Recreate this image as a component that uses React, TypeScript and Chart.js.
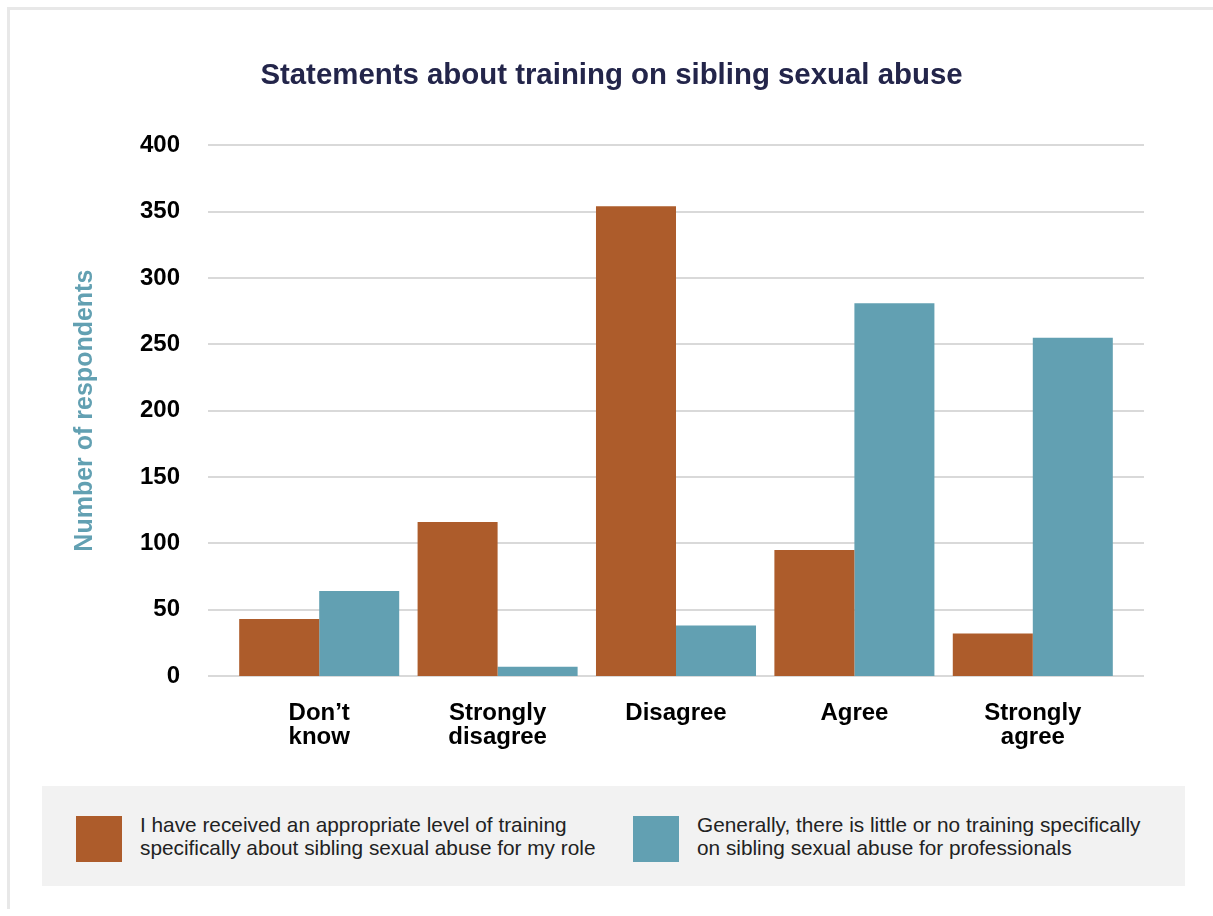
import React, { useEffect, useRef } from "react";
import { Chart, registerables } from "chart.js";

Chart.register(...registerables);

const categories: (string | string[])[] = [
  ["Don\u2019t", "know"],
  ["Strongly", "disagree"],
  "Disagree",
  "Agree",
  ["Strongly", "agree"],
];

const receivedTraining = [43, 116, 354, 95, 32];
const littleTraining = [64, 7, 38, 281, 255];

const seriesLabels = [
  "I have received an appropriate level of training specifically about sibling sexual abuse for my role",
  "Generally, there is little or no training specifically on sibling sexual abuse for professionals",
];
const seriesLegendLines = [
  ["I have received an appropriate level of training", "specifically about sibling sexual abuse for my role"],
  ["Generally, there is little or no training specifically", "on sibling sexual abuse for professionals"],
];
const seriesColors = ["#AD5C2B", "#62A0B2"];

const titleText = "Statements about training on sibling sexual abuse";
const yAxisTitle = "Number of respondents";
const yMin = 0;
const yMax = 400;
const yStep = 50;

const FONT = "'Liberation Sans', Arial, Helvetica, sans-serif";

const extendedGrid = {
  id: "extendedGrid",
  beforeDatasetsDraw(chart: any) {
    const y = chart.scales.y;
    const { left, right } = chart.chartArea;
    const ctx = chart.ctx;
    ctx.save();
    ctx.strokeStyle = "#d9d9d9";
    ctx.lineWidth = 2;
    y.ticks.forEach((t: any) => {
      const py = Math.round(y.getPixelForValue(t.value));
      ctx.beginPath();
      ctx.moveTo(left - 22, py);
      ctx.lineTo(right + 22, py);
      ctx.stroke();
    });
    ctx.restore();
  },
};

export default function App() {
  const ref = useRef<HTMLCanvasElement | null>(null);

  useEffect(() => {
    if (!ref.current) return;
    const chart = new Chart(ref.current, {
      type: "bar",
      data: {
        labels: categories as any,
        datasets: [
          {
            label: seriesLabels[0],
            data: receivedTraining,
            backgroundColor: seriesColors[0],
            borderWidth: 0,
            categoryPercentage: 0.897,
            barPercentage: 1.0,
          },
          {
            label: seriesLabels[1],
            data: littleTraining,
            backgroundColor: seriesColors[1],
            borderWidth: 0,
            categoryPercentage: 0.897,
            barPercentage: 1.0,
          },
        ],
      },
      options: {
        responsive: false,
        animation: false,
        devicePixelRatio: 1,
        layout: { padding: { left: 0, right: 0, top: 0, bottom: 21 } },
        plugins: {
          legend: { display: false },
          tooltip: { enabled: false },
          title: {
            display: true,
            text: titleText,
            color: "#23254A",
            font: { family: FONT, size: 29.4, weight: "bold", lineHeight: 1.2 },
            padding: { top: 48, bottom: 52 },
          },
        },
        scales: {
          x: {
            grid: { display: false, drawTicks: false },
            border: { display: false },
            ticks: {
              color: "#000",
              padding: 26,
              maxRotation: 0,
              autoSkip: false,
              font: { family: FONT, size: 24, weight: "bold", lineHeight: 0.97 },
            },
            afterFit(scale: any) {
              scale.height = 73;
            },
          },
          y: {
            min: yMin,
            max: yMax,
            grid: { display: false, drawTicks: false },
            border: { display: false },
            ticks: {
              stepSize: yStep,
              color: "#000",
              padding: 50,
              font: { family: FONT, size: 24, weight: "bold" },
            },
            title: {
              display: true,
              text: yAxisTitle,
              color: "#62A0B2",
              font: { family: FONT, size: 25, weight: "bold", lineHeight: 1.2 },
              padding: { top: 60, bottom: 0 },
            },
            afterFit(scale: any) {
              scale.width = 220;
            },
          },
          yRight: {
            type: "linear",
            position: "right",
            display: true,
            grid: { display: false, drawTicks: false },
            border: { display: false },
            ticks: { display: false },
            afterFit(scale: any) {
              scale.width = 91;
            },
          },
        },
      } as any,
      plugins: [extendedGrid],
    });
    return () => chart.destroy();
  }, []);

  const legendLefts = [34, 591];

  return (
    <div
      style={{
        position: "absolute",
        left: 7,
        top: 7,
        width: 1203,
        height: 899,
        borderTop: "3px solid #e8e8e8",
        borderLeft: "3px solid #e8e8e8",
        overflow: "hidden",
        background: "#fff",
      }}
    >
      <canvas
        ref={ref}
        width={1203}
        height={760}
        style={{ position: "absolute", left: 0, top: 0, width: 1203, height: 760 }}
      />
      <div
        style={{
          position: "absolute",
          left: 32,
          top: 776,
          width: 1143,
          height: 100,
          background: "#f2f2f2",
        }}
      >
        {seriesLegendLines.map((lines, i) => (
          <div
            key={i}
            style={{
              position: "absolute",
              left: legendLefts[i],
              top: 0,
              height: 100,
              display: "flex",
              alignItems: "center",
            }}
          >
            <div
              style={{
                width: 46,
                height: 46,
                background: seriesColors[i],
                marginTop: 6,
                flex: "0 0 auto",
              }}
            />
            <div
              style={{
                marginLeft: 18,
                fontFamily: FONT,
                fontSize: 20.8,
                lineHeight: "23px",
                color: "#222",
                whiteSpace: "nowrap",
              }}
            >
              {lines.map((l, j) => (
                <div key={j}>{l}</div>
              ))}
            </div>
          </div>
        ))}
      </div>
    </div>
  );
}
